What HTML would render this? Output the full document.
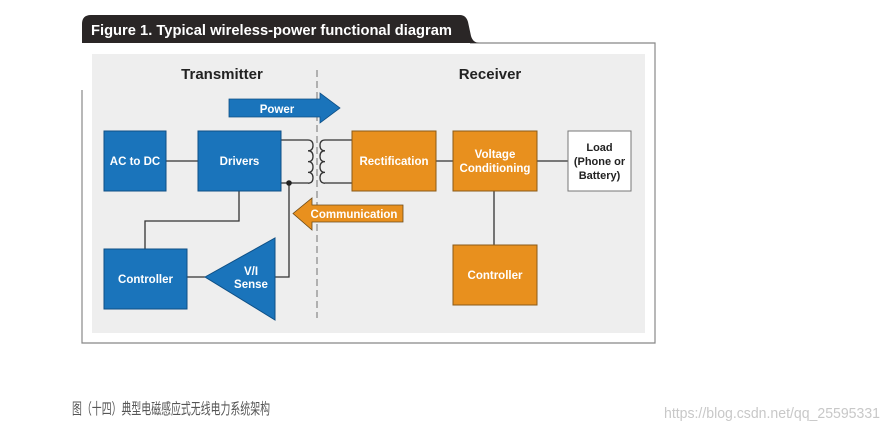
<!DOCTYPE html>
<html><head><meta charset="utf-8"><style>
body{margin:0;background:#fff;width:887px;height:432px;overflow:hidden;}
svg{display:block}
text{font-family:"Liberation Sans",Arial,sans-serif;font-weight:bold}
</style></head><body>
<svg width="887" height="432" viewBox="0 0 887 432">
<path d="M82 90 V343 H655 V43 H470" fill="none" stroke="#888" stroke-width="1.2"/>
<path d="M82 43 V24 Q82 15 91 15 H460 Q466 15 468 22 L471 36 Q473 43 480 43 Z" fill="#2a2626"/>
<text x="91" y="35" fill="#fff" font-size="14.5" textLength="361" lengthAdjust="spacingAndGlyphs">Figure 1. Typical wireless-power functional diagram</text>
<rect x="92" y="54" width="553" height="279" fill="#eeeeee"/>
<line x1="317" y1="70" x2="317" y2="318" stroke="#888" stroke-width="1.2" stroke-dasharray="7,4"/>
<text x="222" y="79" text-anchor="middle" font-size="15" fill="#222">Transmitter</text>
<text x="490" y="79" text-anchor="middle" font-size="15" fill="#222">Receiver</text>
<path d="M229 99 H320 V93 L340 108 L320 123 V117 H229 Z" fill="#1a74bb" stroke="#0e4f85" stroke-width="0.8"/>
<text x="277" y="113" text-anchor="middle" font-size="11.5" fill="#fff">Power</text>
<path d="M403 205 H312 V198 L293 213.5 L312 230 V222 H403 Z" fill="#e8901e" stroke="#6b4a18" stroke-width="0.8"/>
<text x="354" y="218" text-anchor="middle" font-size="11.5" fill="#fff">Communication</text>
<g stroke="#333" stroke-width="1.3" fill="none">
<line x1="166" y1="161" x2="198" y2="161"/>
<path d="M281 140 H308"/>
<path d="M281 183 H308"/>
<path d="M308 140 q5 0 5 5.4 q0 5.4 -5 5.4 q5 0 5 5.4 q0 5.4 -5 5.4 q5 0 5 5.4 q0 5.4 -5 5.4 q5 0 5 5.4 q0 5.4 -5 5.4"/>
<path d="M325 140 q-5 0 -5 5.4 q0 5.4 5 5.4 q-5 0 -5 5.4 q0 5.4 5 5.4 q-5 0 -5 5.4 q0 5.4 5 5.4 q-5 0 -5 5.4 q0 5.4 5 5.4"/>
<path d="M325 140 H352"/>
<path d="M325 183 H352"/>
<path d="M289 183 V277 H275"/>
<path d="M239 191 V221 H145 V249"/>
<line x1="187" y1="277" x2="205" y2="277"/>
<line x1="436" y1="161" x2="453" y2="161"/>
<line x1="537" y1="161" x2="568" y2="161"/>
<line x1="494" y1="191" x2="494" y2="245"/>
</g>
<circle cx="289" cy="183" r="2.8" fill="#222"/>
<g fill="#1a74bb" stroke="#0e4f85" stroke-width="1">
<rect x="104" y="131" width="62" height="60"/>
<rect x="198" y="131" width="83" height="60"/>
<rect x="104" y="249" width="83" height="60"/>
<path d="M205 277 L275 238 V320 Z"/>
</g>
<g fill="#e8901e" stroke="#8a5a18" stroke-width="1">
<rect x="352" y="131" width="84" height="60"/>
<rect x="453" y="131" width="84" height="60"/>
<rect x="453" y="245" width="84" height="60"/>
</g>
<rect x="568" y="131" width="63" height="60" fill="#fff" stroke="#777" stroke-width="1"/>
<g font-size="11.5" fill="#fff" text-anchor="middle">
<text x="135" y="165">AC to DC</text>
<text x="239.5" y="165">Drivers</text>
<text x="145.5" y="283">Controller</text>
<text x="251" y="275">V/I</text>
<text x="251" y="288">Sense</text>
<text x="394" y="165">Rectification</text>
<text x="495" y="158">Voltage</text>
<text x="495" y="172">Conditioning</text>
<text x="495" y="279">Controller</text>
</g>
<g font-size="11" fill="#222" text-anchor="middle">
<text x="599.5" y="151">Load</text>
<text x="599.5" y="165">(Phone or</text>
<text x="599.5" y="179">Battery)</text>
</g>
<text x="72" y="414" font-size="15.5" fill="#555" textLength="198" lengthAdjust="spacingAndGlyphs" style="font-family:'Liberation Sans','Noto Sans CJK SC',sans-serif;font-weight:normal;shape-rendering:geometricPrecision">图（十四）典型电磁感应式无线电力系统架构</text>
<text x="880" y="418" text-anchor="end" font-size="15" fill="#c8c8c8" textLength="216" lengthAdjust="spacingAndGlyphs" style="font-weight:normal">https://blog.csdn.net/qq_25595331</text>
</svg>
</body></html>
